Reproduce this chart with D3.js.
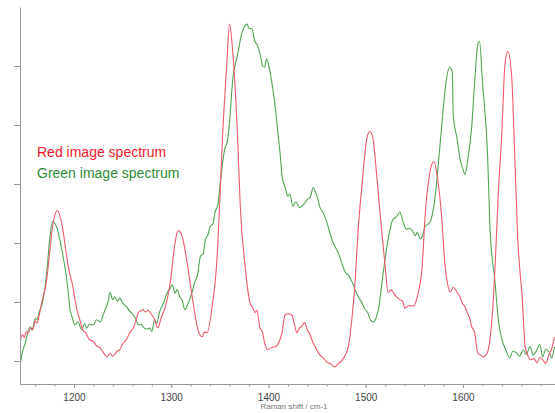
<!DOCTYPE html>
<html>
<head>
<meta charset="utf-8">
<script src="https://cdn.jsdelivr.net/npm/d3@7"></script>
<style>
  body { margin: 0; background: #fff; }
  svg { display: block; font-family: "Liberation Sans", Arial, sans-serif; }
</style>
</head>
<body>
<script>
/* Spectra: [Raman shift (cm-1), intensity (counts)] */
var redSpectrum = [
  [1145,1360],[1147,1450],[1149,1400],[1151,1500],[1153,1470],[1155,1560],[1158,1540],[1160,1680],
  [1162,1640],[1164,1760],[1167,2000],[1172,2380],[1175,2840],[1178,3280],
  [1183,3550],[1188,3280],[1193,2720],[1196,2450],[1198,2330],[1201,2050],[1203,1870],[1206,1700],
  [1209,1530],[1212,1480],[1216,1360],[1220,1330],[1223,1260],[1227,1220],
  [1230,1150],[1234,1070],[1237,1130],[1240,1080],[1244,1160],[1247,1190],[1250,1290],[1254,1360],
  [1257,1470],[1261,1560],[1264,1700],[1266,1820],[1269,1850],[1271,1870],[1273,1830],
  [1276,1860],[1280,1780],[1283,1700],[1286,1560],[1290,1750],[1294,1920],[1299,2330],[1304,3010],
  [1307,3210],[1310,3170],[1312,3060],[1317,2600],
  [1322,2040],[1327,1560],[1330,1430],[1332,1410],[1334,1490],[1337,1480],[1342,1920],[1347,2720],
  [1350,3740],[1353,4880],[1357,6000],[1360,6710],[1363,6290],[1368,4880],[1371,3620],[1376,2600],
  [1381,1990],[1384,1900],[1386,1820],[1388,1860],[1391,1580],[1394,1480],[1396,1310],[1399,1190],
  [1403,1230],[1407,1240],[1411,1330],[1414,1480],[1417,1780],[1420,1800],[1424,1780],[1427,1600],
  [1429,1480],[1432,1560],[1434,1580],[1437,1650],[1440,1530],[1443,1440],[1446,1300],[1448,1240],
  [1451,1150],[1453,1100],[1457,1040],[1460,980],[1464,950],[1468,900],[1472,960],[1476,1020],
  [1479,1100],[1482,1240],[1486,1750],[1489,2330],[1492,3180],[1496,3960],[1501,4760],[1504,4890],
  [1507,4810],[1511,4200],[1515,3450],[1520,2600],[1523,2160],[1526,2210],[1528,2170],[1531,2100],
  [1535,2040],[1538,2010],[1540,1900],[1543,1920],[1545,1940],[1549,1930],
  [1553,2090],[1558,2600],[1561,3450],[1566,4200],[1570,4380],[1574,4080],[1578,3450],[1581,2720],
  [1584,2320],[1587,2170],[1590,2250],[1594,2160],[1597,2080],[1599,1990],[1602,1920],[1604,1830],
  [1607,1720],[1609,1580],[1612,1480],[1615,1140],[1618,1100],[1621,1070],
  [1624,1110],[1626,1190],[1630,1750],[1633,2600],[1636,3740],[1640,4880],[1643,6000],[1646,6250],
  [1650,5830],[1653,4590],[1656,3180],[1661,2040],[1664,1240],[1667,1080],[1669,1020],[1673,1040],
  [1676,970],[1679,1060],[1682,1020],[1685,960],[1689,1140],[1691,1200],[1694,1410]
];

var greenSpectrum = [
  [1145,970],[1147,1150],[1150,1310],[1152,1450],[1155,1580],[1157,1520],[1160,1720],[1162,1700],
  [1164,1820],[1167,1950],[1172,2500],[1175,3060],[1178,3360],
  [1183,3230],[1188,2840],[1193,2330],[1196,1870],[1198,1750],[1201,1610],[1204,1660],[1208,1530],
  [1211,1640],[1213,1560],[1216,1620],[1220,1610],[1223,1700],
  [1227,1660],[1230,1780],[1232,1870],[1235,2000],[1237,2160],[1240,2040],[1242,2090],[1245,2010],
  [1247,2070],[1250,1980],[1254,1920],[1257,1850],[1261,1780],[1264,1700],[1266,1610],
  [1269,1620],[1271,1580],[1275,1540],[1278,1560],[1280,1500],[1283,1700],[1285,1640],[1288,1830],
  [1292,1980],[1296,2160],[1299,2230],[1301,2290],[1304,2150],[1306,2210],[1309,2080],[1311,2040],
  [1314,1870],[1317,1960],[1319,2040],[1322,2200],[1324,2330],[1327,2450],[1330,2770],[1333,2820],
  [1335,3060],[1338,3150],[1340,3280],[1343,3330],[1345,3520],[1348,3650],[1350,3960],
  [1355,4590],[1358,4750],[1360,5050],[1363,5730],[1368,6170],[1373,6580],[1378,6710],[1380,6640],
  [1383,6630],[1386,6420],[1389,6340],[1392,6150],
  [1394,6000],[1396,5980],[1398,6120],[1401,5950],[1404,5660],[1407,5300],[1409,4980],[1412,4500],
  [1414,4130],[1417,3950],[1420,3790],[1422,3830],[1425,3620],[1428,3700],[1432,3600],[1436,3650],
  [1440,3740],[1443,3780],[1446,3940],[1448,3870],[1450,3790],[1453,3600],[1456,3520],[1460,3350],
  [1463,3180],[1466,3020],[1470,2890],[1473,2780],[1476,2630],[1479,2500],[1482,2460],[1486,2340],
  [1489,2210],[1492,2100],[1496,1990],[1499,1880],[1502,1820],[1505,1690],[1508,1660],[1511,1750],
  [1513,1870],[1518,2500],[1523,3060],[1528,3400],
  [1532,3450],[1535,3530],[1538,3380],[1542,3230],[1545,3250],[1549,3180],[1551,3120],[1553,3180],
  [1556,3070],[1558,3110],[1561,3280],[1566,3350],[1571,3740],
  [1576,4590],[1579,5150],[1583,5780],[1586,5980],[1589,5900],[1590,5150],[1594,4760],[1597,4420],
  [1600,4250],[1602,4160],[1605,4420],[1609,4980],[1612,5730],[1615,6340],[1617,6420],[1620,5730],
  [1625,4590],[1628,3180],[1633,2330],[1636,1750],[1641,1310],[1644,1190],[1648,1050],[1651,1160],
  [1655,1140],[1658,1080],[1662,1190],[1665,1110],[1669,1240],[1672,1100],
  [1676,1190],[1679,1280],[1682,1070],[1685,1200],[1689,1140],[1691,1050],[1694,1240]
];

var xTicks = [1200, 1300, 1400, 1500, 1600];
var yTicks = [1000, 2000, 3000, 4000, 5000, 6000];
var legendLabels = ["Red image spectrum", "Green image spectrum"];

/* Display setup */
var width = 555, height = 413,
    margin = {top: 7, right: 0, bottom: 29, left: 20},
    axisColor = "#999",
    lineColors = ["#ee5a6a", "#52a552"],
    textColors = ["#f0202a", "#2e8b36"];

var svg = d3.select("body").append("svg")
    .attr("width", width)
    .attr("height", height);

var x = d3.scaleLinear()
    .domain([1144.5, 1694.6])
    .range([margin.left, width - margin.right]);

var y = d3.scaleLinear()
    .domain([610, 7000])
    .range([height - margin.bottom, margin.top]);

svg.append("clipPath").attr("id", "plot-clip")
  .append("rect")
    .attr("x", margin.left).attr("y", 0)
    .attr("width", width - margin.left).attr("height", height - margin.bottom);

/* Spectra */
var line = d3.line()
    .curve(d3.curveMonotoneX)
    .x(function(d) { return x(d[0]); })
    .y(function(d) { return y(d[1]); });

svg.append("g").attr("clip-path", "url(#plot-clip)")
  .selectAll("path")
  .data([greenSpectrum, redSpectrum])
  .enter().append("path")
    .attr("d", line)
    .attr("fill", "none")
    .attr("stroke", function(d, i) { return i ? lineColors[0] : lineColors[1]; })
    .attr("stroke-width", 1.1)
    .attr("stroke-linejoin", "round");

/* Axes */
var xAxis = svg.append("g")
    .attr("transform", "translate(0," + (height - margin.bottom) + ")");

xAxis.append("g")
    .call(d3.axisBottom(x).tickValues(d3.range(1160, 1700, 20)).tickSize(2.5).tickFormat(""))
    .call(function(g) { g.select(".domain").remove(); })
    .selectAll("line").attr("stroke", axisColor);

xAxis.append("g")
    .call(d3.axisBottom(x).tickValues(xTicks).tickSize(4).tickSizeOuter(0).tickFormat(d3.format("d")))
    .call(function(g) {
      g.select(".domain").attr("stroke", axisColor);
      g.selectAll("line").attr("stroke", axisColor);
      g.selectAll("text").attr("fill", "#444").attr("font-size", 10).attr("dy", "0.95em");
    });

svg.append("text")
    .attr("x", 294)
    .attr("y", height - 4)
    .attr("text-anchor", "middle")
    .attr("font-size", 8)
    .attr("fill", "#777")
    .text("Raman shift / cm-1");

svg.append("g")
    .attr("transform", "translate(" + margin.left + ",0)")
    .call(d3.axisLeft(y).tickValues(yTicks).tickSize(6).tickSizeOuter(0).tickFormat(""))
    .call(function(g) {
      g.select(".domain").attr("stroke", axisColor);
      g.selectAll("line").attr("stroke", axisColor);
    });

/* Legend */
svg.selectAll("text.legend")
  .data(legendLabels)
  .enter().append("text")
    .attr("class", "legend")
    .attr("x", 37)
    .attr("y", function(d, i) { return 157 + i * 20.5; })
    .attr("font-size", 14)
    .attr("fill", function(d, i) { return textColors[i]; })
    .text(function(d) { return d; });
</script>
</body>
</html>
